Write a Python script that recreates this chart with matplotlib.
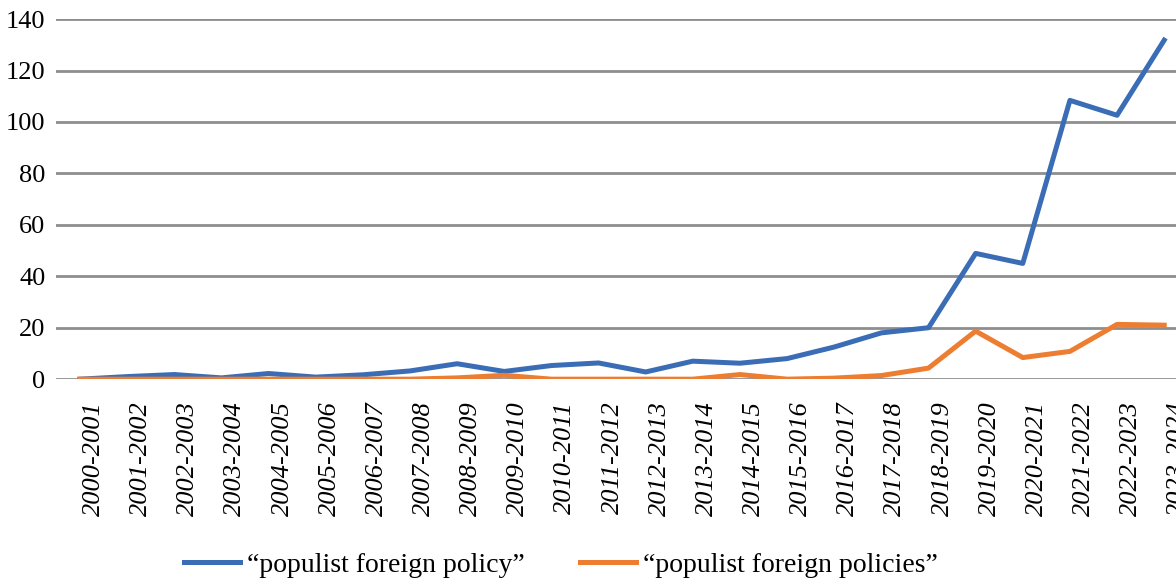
"""
Mentions per academic year of two search phrases, drawn as two lines.
"""

import matplotlib
matplotlib.use("Agg")
import matplotlib.pyplot as plt
import matplotlib.transforms as mtransforms

plt.rcParams["font.family"] = ["Liberation Serif", "DejaVu Serif"]

# Academic years on the x axis
years = [f"{y}-{y + 1}" for y in range(2000, 2024)]

# Values
policy_counts = [0, 1, 1.8, 0.5, 2.2, 0.8, 1.7, 3.2, 6.0, 3.0, 5.3, 6.3,
                 2.8, 7.0, 6.2, 8.0, 12.5, 18.0, 20.0, 48.9, 45.0, 108.4,
                 102.6, 131.8]
policies_counts = [0, 0, 0, 0, 0, 0, 0, 0, 0.5, 1.5, 0, 0,
                   0, 0, 1.8, 0, 0.4, 1.4, 4.3, 18.7, 8.4, 10.8,
                   21.3, 21.0]

series_labels = ["\u201cpopulist foreign policy\u201d",
                 "\u201cpopulist foreign policies\u201d"]
y_ticks = list(range(0, 141, 20))

BLUE = "#3a6db5"
ORANGE = "#ed7d31"
GRID = "#8e8e8e"

fig = plt.figure(figsize=(11.76, 5.78), dpi=100)
ax = fig.add_axes([0.048, 0.344, 0.962, 0.623])

x = list(range(len(years)))
ax.plot(x, policy_counts, color=BLUE, linewidth=3.6,
        solid_joinstyle="round", label=series_labels[0], zorder=3)
ax.plot(x, policies_counts, color=ORANGE, linewidth=3.6,
        solid_joinstyle="round", label=series_labels[1], zorder=4)

ax.set_xlim(-0.5, len(years) - 0.5)
ax.set_ylim(0, 140)
ax.set_yticks(y_ticks)
ax.set_xticks(x)
ax.set_xticklabels(years, rotation=90, fontsize=19, style="italic",
                   va="top", ha="center")
ax.tick_params(axis="y", labelsize=19, length=0, pad=8)
ax.tick_params(axis="x", length=0, pad=16)

# shift the rotated labels a little to the right, as in the source chart
offset = mtransforms.ScaledTranslation(14 / 100, 0, fig.dpi_scale_trans)
for lbl in ax.get_xticklabels():
    lbl.set_transform(lbl.get_transform() + offset)

ax.grid(True, axis="y", color=GRID, linewidth=2, zorder=1)
ax.set_axisbelow(True)
for side in ["top", "right", "left", "bottom"]:
    ax.spines[side].set_visible(False)

fig.legend(loc="center", bbox_to_anchor=(561 / 1176, 1 - 565 / 578),
           ncol=2, frameon=False, fontsize=20, handlelength=2.0,
           handletextpad=0.25, columnspacing=2.0)

fig.savefig("out.png", dpi=100)
